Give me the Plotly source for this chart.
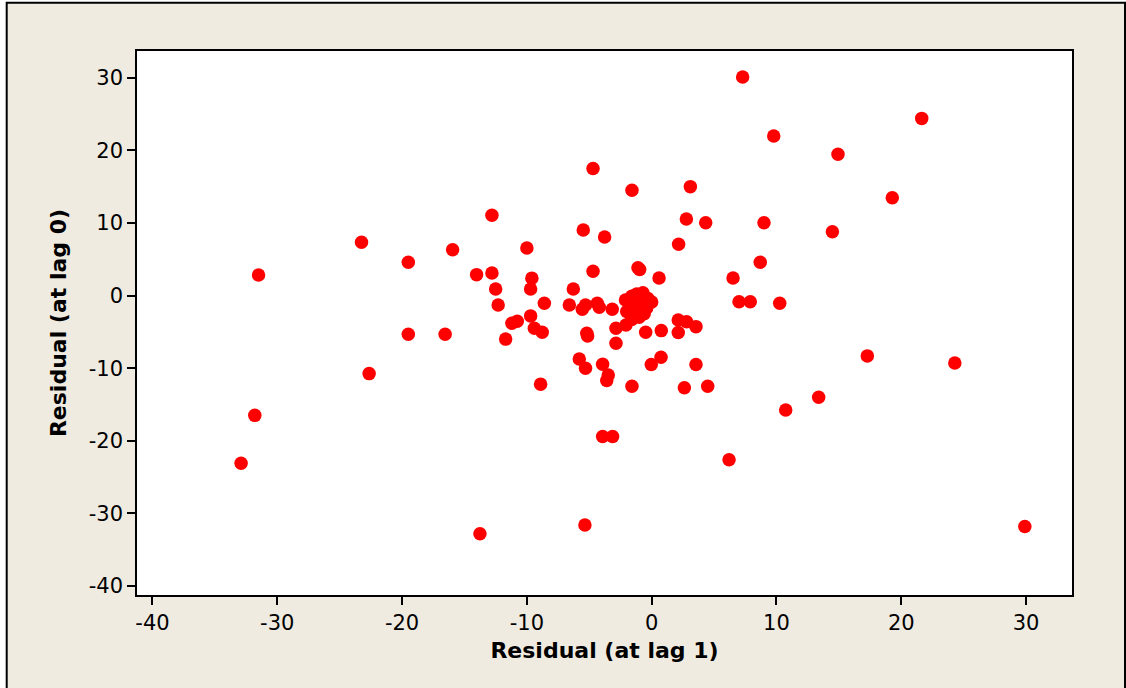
import plotly.graph_objects as go

# Residual at lag 1 (x) and residual at lag 0 (y)
lag1 = [
    -31.5, -23.25, -19.5, -15.95, -14.03, -12.8, -12.5, -12.3, -12.8,
    -19.5, -16.55, -22.64, -31.8, -32.9, -13.76, -11.7, -11.2, -10.77,
    -9.7, -9.4, -8.77, -8.9, -9.6, -9.7, -8.6, -6.6, -6.28, -10.0,
    -5.48, -3.77, -4.7, -1.58, 3.1, 2.78, 4.33, 2.16, -4.7, -1.1, -0.96,
    0.59, 6.52, 7.0, 7.9, 10.26, 8.7, 9.0, 7.29, 9.78, 21.64, 14.93,
    19.28, 14.48, 17.28, 24.29, 13.38, 10.74, 29.9, 6.2, -5.35, -3.93,
    -3.13, -5.8, -5.3, -3.93, -3.48, -3.6, -1.58, 2.62, 4.49, 0.75,
    -0.03, 3.55, -5.56, -5.3, -4.36, -4.2, -3.16, -5.2, -5.13, -2.86,
    -2.06, -2.86, -0.48, 0.77, 2.13, 2.8, 3.55, 2.13,
    -2.1, -1.6, -1.2, -0.7, -0.3, 0.0, -1.0, -1.7, -0.4, -1.1, -2.0,
    -1.4, -0.6, -1.0, -1.6,
]
lag0 = [
    2.84, 7.34, 4.58, 6.32, 2.88, 3.11, 0.9, -1.3, 11.05,
    -5.33, -5.33, -10.75, -16.5, -23.1, -32.8, -6.0, -3.8, -3.54,
    -2.8, -4.5, -5.05, -12.2, 2.4, 0.9, -1.06, -1.3, 0.9, 6.55,
    9.03, 8.07, 17.5, 14.5, 15.0, 10.55, 10.04, 7.06, 3.34, 3.84, 3.6,
    2.42, 2.42, -0.84, -0.84, -1.06, 4.58, 10.04, 30.1, 21.97, 24.4, 19.45,
    13.48, 8.8, -8.31, -9.28, -14.0, -15.75, -31.8, -22.6, -31.6, -19.4,
    -19.4, -8.73, -10.0, -9.46, -10.93, -11.7, -12.5, -12.7, -12.5, -8.5,
    -9.5, -9.5, -1.9, -1.3, -1.06, -1.6, -1.9, -5.2, -5.56, -4.5,
    -4.05, -6.57, -5.05, -4.83, -3.36, -3.6, -4.28, -5.1,
    -0.6, -0.1, 0.2, 0.4, -0.4, -0.9, -0.9, -1.4, -1.7, -1.9, -2.2,
    -2.6, -2.5, -3.0, -3.3,
]

tick_vals = [-40, -30, -20, -10, 0, 10, 20, 30]
tick_text = ["-40", "-30", "-20", "-10", "0", "10", "20", "30"]

x_title = "Residual (at lag 1)"
y_title = "Residual (at lag 0)"

W, H = 1126, 688
ML, MR, MT, MB = 137, 54, 51, 93
pw, ph = W - ML - MR, H - MT - MB

def px_to_paper_x(p):
    return (p - ML) / pw

def py_to_paper_y(p):
    return (H - MB - p) / ph

fig = go.Figure(
    go.Scatter(
        x=lag1, y=lag0, mode="markers",
        marker=dict(color="#FF0000", size=13.5, line=dict(width=0)),
        hoverinfo="x+y",
    )
)

tickfont = dict(family="Tahoma, DejaVu Sans, sans-serif", size=21, color="black")
titlefont = dict(family="Tahoma, DejaVu Sans, sans-serif", size=22, color="black", weight="bold")

axis_common = dict(
    range=[-41.24, 33.68],
    tickvals=tick_vals, ticktext=tick_text,
    ticks="outside", ticklen=8, tickwidth=1.5, tickcolor="black",
    showline=True, linecolor="black", linewidth=1.5, mirror=True,
    showgrid=False, zeroline=False,
    tickfont=tickfont,
)

fig.update_layout(
    width=W, height=H,
    margin=dict(l=ML, r=MR, t=MT, b=MB, pad=0),
    paper_bgcolor="white",
    plot_bgcolor="white",
    showlegend=False,
    xaxis=dict(**axis_common, title=dict(text=x_title, font=titlefont, standoff=9)),
    yaxis=dict(**axis_common, title=dict(text=y_title, font=titlefont, standoff=16)),
    shapes=[
        dict(type="rect", xref="paper", yref="paper", layer="below",
             x0=px_to_paper_x(6.7), x1=px_to_paper_x(1125.0),
             y0=py_to_paper_y(700), y1=py_to_paper_y(2.7),
             fillcolor="#EFEBE1", line=dict(color="black", width=2)),
        dict(type="rect", xref="paper", yref="paper", layer="below",
             x0=0, x1=1, y0=0, y1=1,
             fillcolor="white", line=dict(width=0)),
    ],
)

fig.write_html(
    "out.html",
    config={"displayModeBar": False},
    post_script="document.body.style.margin='0';document.body.style.overflow='hidden';",
)
